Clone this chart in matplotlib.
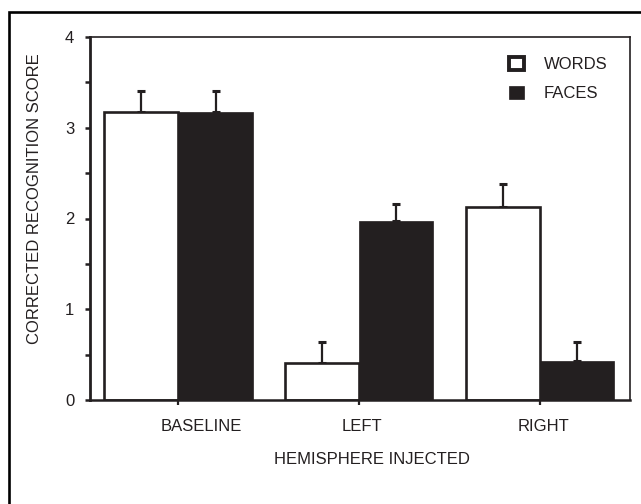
import matplotlib
matplotlib.use("Agg")
import matplotlib.pyplot as plt
from matplotlib.lines import Line2D
from matplotlib.patches import Patch
from matplotlib.ticker import MultipleLocator
import matplotlib.transforms as mtransforms
import numpy as np

plt.rcParams['font.family'] = ['Liberation Sans', 'DejaVu Sans']

categories = ["BASELINE", "LEFT", "RIGHT"]
words = [3.17, 0.41, 2.13]
words_err = [0.23, 0.23, 0.25]
faces = [3.17, 1.97, 0.43]
faces_err = [0.23, 0.19, 0.21]
series_names = ["WORDS", "FACES"]

INK = "#231f20"
W = 0.41

fig = plt.figure(figsize=(6.41, 5.04), dpi=100)
ax = fig.add_axes([90/641, 1-400/504, 540/641, 363/504])

x = np.arange(len(categories))
ax.bar(x, words, width=-W, align='edge', facecolor='white', edgecolor=INK,
       linewidth=1.9, zorder=2, label=series_names[0])
ax.bar(x, faces, width=W, align='edge', facecolor=INK, edgecolor=INK,
       linewidth=0.5, zorder=2, label=series_names[1])
ax.errorbar(x - W/2, words, yerr=[np.zeros(3), words_err], fmt='none',
            ecolor=INK, elinewidth=1.6, capsize=2.6, capthick=2.2, zorder=1)
ax.errorbar(x + W/2, faces, yerr=[np.zeros(3), faces_err], fmt='none',
            ecolor=INK, elinewidth=1.6, capsize=2.6, capthick=2.2, zorder=1)

ax.set_xlim(-0.49, 2.50)
ax.set_ylim(0, 4)
ax.yaxis.set_major_locator(MultipleLocator(1))
ax.yaxis.set_minor_locator(MultipleLocator(0.5))
ax.set_xticks(x)
ax.set_xticklabels(categories, fontsize=12, color=INK)
ax.tick_params(axis='y', which='both', direction='out', length=3.4, width=1.8,
               color=INK, labelsize=12, labelcolor=INK, pad=8)
ax.tick_params(axis='x', direction='out', length=3.4, width=1.6, color=INK, pad=10)

offsets_px = [23, 3, 4]
for lab, off in zip(ax.get_xticklabels(), offsets_px):
    lab.set_transform(lab.get_transform() +
                      mtransforms.ScaledTranslation(off/100, 0, fig.dpi_scale_trans))

for side, lw in [('left', 2.0), ('bottom', 1.8), ('top', 1.2), ('right', 1.2)]:
    ax.spines[side].set_linewidth(lw)
    ax.spines[side].set_color(INK)

ax.set_xlabel("HEMISPHERE INJECTED", fontsize=12, color=INK, va='center')
ax.xaxis.set_label_coords(0.522, -0.163)
ax.set_ylabel("CORRECTED RECOGNITION SCORE", fontsize=12, color=INK, va='center')
ax.yaxis.set_label_coords(-0.102, 0.555)

handles = [Patch(facecolor='white', edgecolor=INK, linewidth=2.8),
           Patch(facecolor=INK, edgecolor=INK, linewidth=0.5)]
ax.legend(handles, series_names, loc='upper left', bbox_to_anchor=(0.776, 0.946),
          frameon=False, fontsize=12, handlelength=0.9, handleheight=0.9,
          handletextpad=1.2, labelspacing=0.8, borderpad=0, borderaxespad=0,
          labelcolor=INK)

fx = 8.5/641
fy = 1 - 12/504
fig.add_artist(Line2D([fx, fx, 1.0], [0.0, fy, fy], transform=fig.transFigure,
                      color='black', linewidth=1.9, solid_joinstyle='miter'))

fig.savefig("out.png", dpi=100)
